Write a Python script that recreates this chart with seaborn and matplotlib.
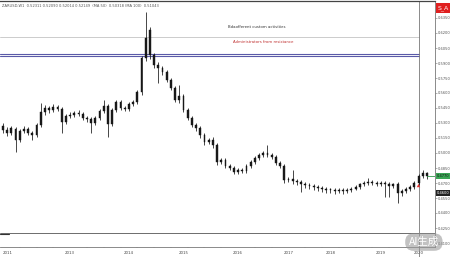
import matplotlib
matplotlib.use("Agg")
import numpy as np
import pandas as pd
import seaborn as sns
import matplotlib.pyplot as plt

# ---------------- data (price values) ----------------
opens = [527, 523, 520, 524, 513, 522, 524, 520, 518, 528, 541, 545, 543, 546, 544, 531, 537, 538, 540, 539,
         535, 534, 530, 535, 542, 547, 529, 543, 551, 545, 544, 549, 551, 561, 595, 623, 598, 588, 585, 581,
         573, 565, 553, 557, 543, 535, 528, 525, 518, 511, 513, 508, 491, 493, 487, 485, 481, 483, 482, 487,
         491, 495, 498, 500, 498, 496, 490, 487, 473, 474, 472, 471, 469, 468, 467, 466, 465, 464, 463, 463,
         462, 463, 462, 463, 464, 466, 469, 470, 471, 470, 469, 470, 469, 467, 469, 460, 462, 464, 466, 470,
         477, 480]
highs = [530, 526, 527, 526, 524, 527, 526, 522, 530, 550, 548, 547, 549, 548, 546, 539, 541, 542, 543, 541,
         537, 536, 537, 544, 553, 549, 545, 553, 553, 547, 551, 553, 563, 597, 641, 626, 600, 591, 587, 583,
         575, 567, 568, 559, 545, 537, 530, 527, 520, 515, 516, 510, 495, 495, 489, 487, 485, 485, 489, 493,
         497, 500, 502, 508, 500, 498, 492, 489, 476, 483, 474, 473, 471, 470, 469, 468, 467, 466, 465, 465,
         465, 465, 465, 466, 468, 470, 472, 475, 473, 472, 472, 472, 471, 470, 471, 464, 466, 468, 472, 479,
         483, 481]
lows = [520, 517, 518, 501, 511, 520, 518, 513, 516, 526, 538, 540, 541, 542, 520, 529, 535, 536, 537, 533,
        531, 520, 528, 533, 540, 516, 527, 541, 543, 542, 542, 547, 549, 558, 592, 594, 585, 570, 578, 571,
        563, 551, 550, 541, 533, 526, 522, 515, 508, 509, 505, 488, 489, 485, 483, 479, 479, 480, 480, 485,
        489, 493, 496, 496, 494, 488, 485, 470, 471, 469, 468, 461, 465, 464, 463, 462, 461, 460, 460, 459,
        460, 459, 460, 461, 463, 464, 467, 468, 468, 467, 467, 456, 456, 465, 450, 457, 460, 462, 464, 468,
        475, 474]
closes = [523, 520, 525, 513, 522, 524, 520, 518, 528, 541, 545, 543, 546, 544, 531, 537, 538, 540, 539, 535,
          534, 530, 535, 542, 547, 529, 543, 551, 545, 544, 549, 551, 561, 595, 615, 598, 588, 585, 581, 573,
          565, 553, 557, 543, 535, 528, 525, 518, 511, 513, 508, 491, 493, 487, 485, 481, 483, 482, 487, 491,
          495, 498, 500, 498, 496, 490, 487, 473, 474, 472, 471, 469, 468, 467, 466, 465, 464, 463, 463, 462,
          463, 462, 463, 464, 466, 469, 470, 471, 470, 469, 470, 469, 467, 469, 460, 462, 464, 466, 470, 477,
          480, 477]

x_tick_idx = [0, 16, 30, 43, 56, 68, 78, 90, 99]
x_tick_labels = ["2011", "2013", "2014", "2015", "2016", "2017", "2018", "2019", "2020"]
y_ticks = [0.410, 0.425, 0.440, 0.455, 0.470, 0.485, 0.500, 0.515, 0.530, 0.545,
           0.560, 0.575, 0.590, 0.605, 0.620, 0.635]
level_gray = 0.616
level_blue = [0.599, 0.597]
level_sep = 0.420
level_dark = 0.460
cursor_idx = 99

df = pd.DataFrame({"open": opens, "high": highs, "low": lows, "close": closes}) / 1000.0
df["idx"] = np.arange(len(df))
df["bottom"] = df[["open", "close"]].min(axis=1)
df["height"] = (df["close"] - df["open"]).abs().clip(lower=0.0008)

# ---------------- figure ----------------
sns.set_theme(style="white")
plt.rcParams["font.family"] = ["DejaVu Sans", "Noto Sans CJK SC"]

fig = plt.figure(figsize=(4.5, 2.57), dpi=100)
fig.patch.set_facecolor("white")
ax = fig.add_axes([0.0, 10 / 257, 435 / 450, 246 / 257])
ax.set_facecolor("white")

ax.vlines(df["idx"], df["low"], df["high"], color="#151515", lw=0.55, zorder=3)
ax.bar(df["idx"], df["height"], bottom=df["bottom"], width=0.45,
       color="#1a1a1a", edgecolor="#111111", lw=0.3, zorder=4)

ax.set_xlim(-0.7, 102.9)
ax.set_ylim(0.406, 0.652)

# levels
frac = (cursor_idx + 0.7) / 103.6
ax.axhline(level_gray, xmax=frac, color="#c4c4c4", lw=0.6, zorder=2)
for lv in level_blue:
    ax.axhline(lv, xmax=frac, color="#5a5aa8", lw=0.8, zorder=2)
ax.axhline(level_sep, color="#555555", lw=0.6, zorder=2)
ax.plot([-0.7, 1.5], [level_sep - 0.0012] * 2, color="#333333", lw=0.8)
ax.axvline(cursor_idx, ymin=-0.04, ymax=1, clip_on=False, color="#777777", lw=0.6, zorder=2)

# current price line
last = df["close"].iloc[-1]
ax.plot([df["idx"].iloc[-1], 102.9], [last, last], color="#2f9a4a", lw=0.6, zorder=5)

# red markers
sns.scatterplot(x=[cursor_idx - 0.2], y=[df["close"].iloc[cursor_idx - 1] - 0.002], marker="^",
                color="#e03030", s=6, ax=ax, zorder=6, linewidth=0)

# axes styling
ax.yaxis.tick_right()
ax.set_yticks(y_ticks)
ax.set_yticklabels([f"{v:.4f}" for v in y_ticks], fontsize=2.6, color="#555555")
ax.tick_params(axis="y", length=1.5, width=0.4, color="#777777", pad=0.8)
ax.set_xticks(x_tick_idx)
ax.set_xticklabels(x_tick_labels, fontsize=2.8, color="#444444")
ax.get_xticklabels()[0].set_ha("left")
ax.set_xticks(np.arange(0, 103, 4), minor=True)
ax.tick_params(axis="x", which="major", length=2, width=0.4, color="#777777", pad=1)
ax.tick_params(axis="x", which="minor", length=1, width=0.3, color="#999999", bottom=True)
ax.grid(False)
ax.spines["left"].set_visible(False)
ax.spines["top"].set_color("#444444")
ax.spines["top"].set_linewidth(0.9)
ax.spines["right"].set_color("#777777")
ax.spines["right"].set_linewidth(0.6)
ax.spines["bottom"].set_color("#777777")
ax.spines["bottom"].set_linewidth(0.6)

# labels on the price axis
ax.text(1.004, last, f"{last:.4f}", transform=ax.get_yaxis_transform(), fontsize=2.6,
        color="#111111", va="center", ha="left",
        bbox=dict(boxstyle="square,pad=0.25", fc="#3aa655", ec="none"), zorder=7, clip_on=False)
ax.text(1.004, level_dark, f"{level_dark:.4f}", transform=ax.get_yaxis_transform(), fontsize=2.6,
        color="white", va="center", ha="left",
        bbox=dict(boxstyle="square,pad=0.25", fc="#222222", ec="none"), zorder=7, clip_on=False)

# texts
fig.text(0.004, 0.985, "ZARUSD,W1  0.52311 0.52090 0.52014 0.52149  (MA 50)  0.50318 (MA 100)  0.51043",
         fontsize=2.6, color="#555555", va="top", ha="left")
ax.text(0.524, 0.894, "Bdaofferent custom activities", transform=ax.transAxes,
        fontsize=2.8, color="#333333", va="center", ha="left")
ax.text(0.536, 0.833, "Administrators from resistance", transform=ax.transAxes,
        fontsize=2.8, color="#c03030", va="center", ha="left")
fig.text(438 / 450, (257 - 8) / 257, "S_A", fontsize=4.5, color="white", va="center", ha="left",
         bbox=dict(boxstyle="square,pad=0.3", fc="#e02020", ec="none"))

# watermark
fig.text(0.942, 0.058, "AI生成", fontsize=7.5, color="white", va="center", ha="center",
         family=["Noto Sans CJK SC", "DejaVu Sans"],
         bbox=dict(boxstyle="round,pad=0.35,rounding_size=0.8", fc="#9a9a9a", ec="none", alpha=0.6))

fig.savefig("out.png", dpi=100, facecolor="white")
